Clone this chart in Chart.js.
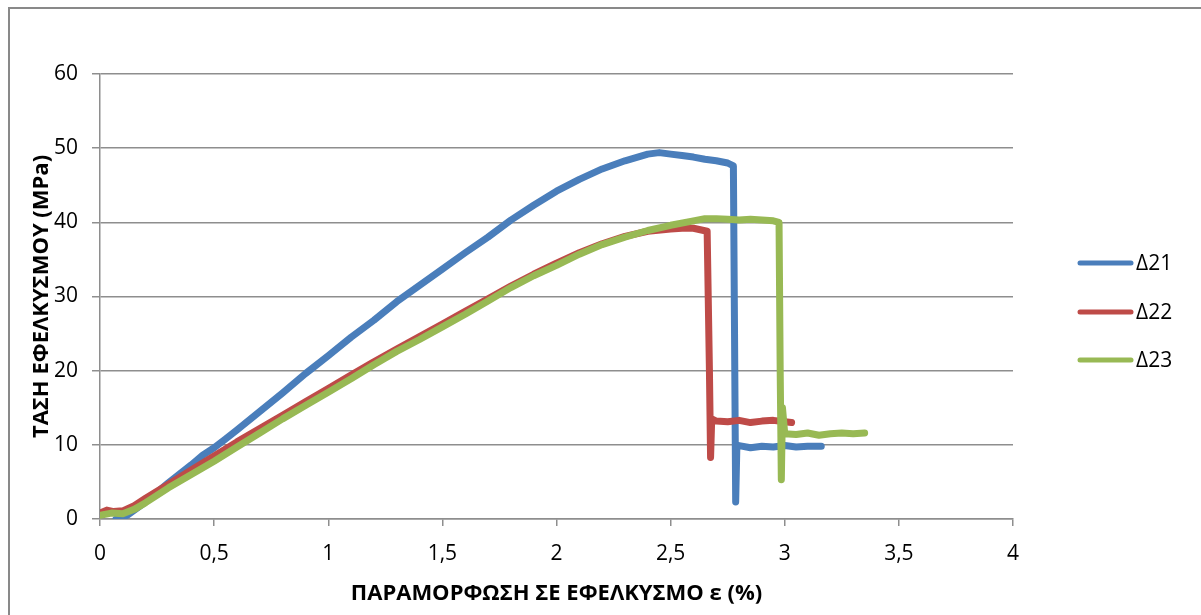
<!DOCTYPE html>
<html>
<head>
<meta charset="utf-8">
<script src="https://cdn.jsdelivr.net/npm/chart.js@4.4.0/dist/chart.umd.min.js"></script>
<style>
    body { margin: 0; background: #fff; }
    #wrap { width: 1201px; height: 615px; position: relative; }
</style>
</head>
<body>
<div id="wrap"><canvas id="stressChart" width="1201" height="615"></canvas></div>
<script>
// Δ21 test
const d21x = [0.07, 0.12, 0.2, 0.3, 0.4, 0.45, 0.5, 0.55, 0.6, 0.7, 0.8, 0.9, 1.0, 1.1, 1.2, 1.3, 1.4, 1.5, 1.6, 1.7, 1.8, 1.9, 2.0, 2.1, 2.2, 2.3, 2.4, 2.45, 2.5, 2.55, 2.6, 2.65, 2.7, 2.75, 2.775, 2.78, 2.785, 2.79, 2.8, 2.85, 2.9, 2.95, 3.0, 3.05, 3.1, 3.16];
const d21y = [0, 0.5, 2.3, 4.9, 7.3, 8.6, 9.6, 10.8, 12, 14.5, 17, 19.6, 22.0, 24.5, 26.8, 29.3, 31.5, 33.7, 35.9, 38, 40.3, 42.3, 44.2, 45.8, 47.2, 48.3, 49.2, 49.4, 49.2, 49.0, 48.8, 48.5, 48.3, 48.0, 47.6, 25, 2.3, 9.5, 9.9, 9.6, 9.8, 9.7, 9.9, 9.7, 9.8, 9.8];

// Δ22 test
const d22x = [0, 0.03, 0.06, 0.1, 0.15, 0.2, 0.3, 0.4, 0.5, 0.6, 0.7, 0.8, 0.9, 1.0, 1.1, 1.2, 1.3, 1.4, 1.5, 1.6, 1.7, 1.8, 1.9, 2.0, 2.1, 2.2, 2.3, 2.4, 2.5, 2.55, 2.6, 2.63, 2.66, 2.67, 2.675, 2.68, 2.7, 2.75, 2.8, 2.85, 2.9, 2.95, 3.0, 3.03];
const d22y = [0.8, 1.2, 1.0, 1.1, 1.8, 2.8, 4.7, 6.6, 8.5, 10.4, 12.2, 14.0, 15.8, 17.6, 19.4, 21.2, 22.9, 24.6, 26.3, 28.0, 29.7, 31.4, 33.0, 34.5, 35.9, 37.1, 38.1, 38.8, 39.1, 39.2, 39.2, 39.0, 38.8, 20, 8.3, 13.5, 13.2, 13.1, 13.3, 13.0, 13.2, 13.3, 13.1, 13.0];

// Δ23 test
const d23x = [0, 0.05, 0.1, 0.15, 0.2, 0.3, 0.4, 0.5, 0.6, 0.7, 0.8, 0.9, 1.0, 1.1, 1.2, 1.3, 1.4, 1.5, 1.6, 1.7, 1.8, 1.9, 2.0, 2.1, 2.2, 2.3, 2.4, 2.5, 2.6, 2.65, 2.7, 2.75, 2.8, 2.85, 2.9, 2.95, 2.975, 2.98, 2.985, 2.99, 3.0, 3.05, 3.1, 3.15, 3.2, 3.25, 3.3, 3.35];
const d23y = [0.5, 0.8, 0.7, 1.3, 2.2, 4.2, 6.0, 7.8, 9.7, 11.6, 13.5, 15.3, 17.1, 18.9, 20.8, 22.6, 24.2, 25.9, 27.6, 29.4, 31.2, 32.8, 34.2, 35.7, 37.0, 38.0, 38.9, 39.6, 40.2, 40.5, 40.5, 40.4, 40.3, 40.4, 40.3, 40.2, 40.0, 20, 5.3, 15, 11.5, 11.4, 11.6, 11.3, 11.5, 11.6, 11.5, 11.6];

const seriesNames = ['Δ21', 'Δ22', 'Δ23'];
const seriesColors = ['#4a7ebb', '#be4b48', '#98b954'];

function toPoints(xs, ys) {
    return xs.map((x, i) => ({ x: x, y: ys[i] }));
}

const FONT = '"Open Sans", "DejaVu Sans", sans-serif';

// outer frame like the spreadsheet chart box
const framePlugin = {
    id: 'frame',
    beforeDraw(chart) {
        const ctx = chart.ctx;
        ctx.save();
        ctx.fillStyle = '#fff';
        ctx.fillRect(0, 0, chart.width, chart.height);
        ctx.strokeStyle = '#898989';
        ctx.lineWidth = 2;
        ctx.strokeRect(9, 8, chart.width + 20, chart.height + 20);
        ctx.restore();
    }
};

// legend on the right, drawn from the datasets
const sideLegend = {
    id: 'sideLegend',
    afterDraw(chart) {
        const ctx = chart.ctx;
        const rows = [263, 312, 360];
        ctx.save();
        chart.data.datasets.forEach((ds, i) => {
            ctx.strokeStyle = ds.borderColor;
            ctx.lineWidth = 5;
            ctx.lineCap = 'round';
            ctx.beginPath();
            ctx.moveTo(1080, rows[i]);
            ctx.lineTo(1131, rows[i]);
            ctx.stroke();
            ctx.fillStyle = '#000';
            ctx.font = '21px ' + FONT;
            ctx.textBaseline = 'middle';
            ctx.fillText(ds.label, 1136, rows[i] + 1);
        });
        ctx.restore();
    }
};

const ctx = document.getElementById('stressChart').getContext('2d');
new Chart(ctx, {
    type: 'scatter',
    data: {
        datasets: [
            { label: seriesNames[0], data: toPoints(d21x, d21y), borderColor: seriesColors[0], order: 3 },
            { label: seriesNames[1], data: toPoints(d22x, d22y), borderColor: seriesColors[1], order: 2 },
            { label: seriesNames[2], data: toPoints(d23x, d23y), borderColor: seriesColors[2], order: 1 }
        ].map(ds => Object.assign(ds, {
            showLine: true,
            pointRadius: 0,
            borderWidth: 7,
            borderJoinStyle: 'round',
            borderCapStyle: 'round',
            tension: 0
        }))
    },
    options: {
        responsive: false,
        animation: false,
        layout: { padding: { left: 12, top: 74, right: 188, bottom: 0 } },
        plugins: {
            legend: { display: false },
            tooltip: { enabled: false }
        },
        scales: {
            x: {
                type: 'linear',
                min: 0,
                max: 4,
                afterFit: s => { s.height = 96; },
                ticks: {
                    stepSize: 0.5,
                    padding: 15,
                    color: '#000',
                    font: { family: FONT, size: 21 },
                    callback: v => String(v).replace('.', ',')
                },
                grid: { drawOnChartArea: false, drawTicks: true, tickLength: 7, color: '#8e8e8e', lineWidth: 1.5 },
                border: { color: '#8e8e8e', width: 1.5 },
                title: {
                    display: true,
                    text: 'ΠΑΡΑΜΟΡΦΩΣΗ ΣΕ ΕΦΕΛΚΥΣΜΟ ε (%)',
                    color: '#000',
                    font: { family: FONT, size: 22, weight: 'bold' },
                    padding: { top: 0, bottom: 8 }
                }
            },
            y: {
                min: 0,
                max: 60,
                afterFit: s => { s.width = 88; },
                ticks: {
                    stepSize: 10,
                    padding: 14,
                    color: '#000',
                    font: { family: FONT, size: 21 }
                },
                grid: { color: '#8e8e8e', lineWidth: 1.5, tickLength: 8 },
                border: { color: '#8e8e8e', width: 1.5 },
                title: {
                    display: true,
                    text: 'ΤΑΣΗ ΕΦΕΛΚΥΣΜΟΥ (MPa)',
                    color: '#000',
                    font: { family: FONT, size: 22, weight: 'bold' },
                    padding: { top: 17, bottom: 0 }
                }
            }
        }
    },
    plugins: [framePlugin, sideLegend]
});
</script>
</body>
</html>
